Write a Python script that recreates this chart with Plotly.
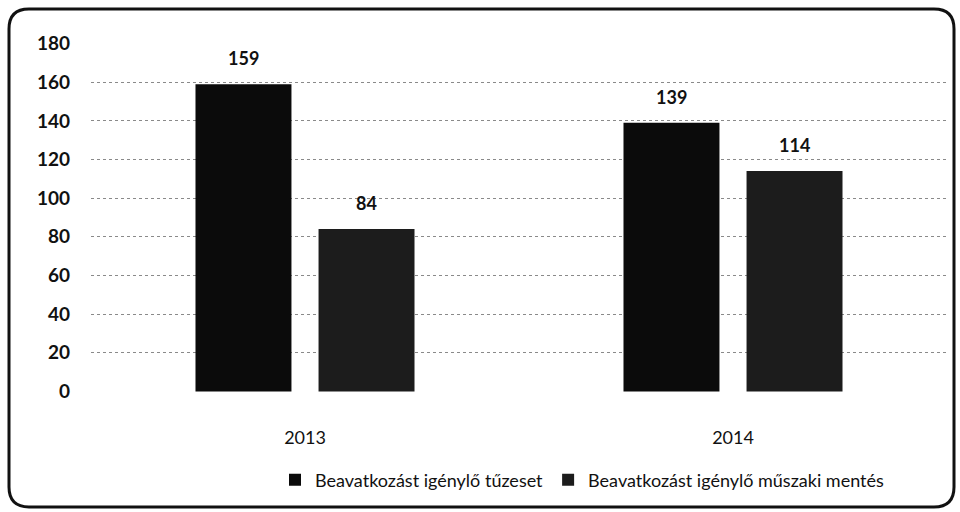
import plotly.graph_objects as go

years = ["2013", "2014"]
series_names = ["Beavatkozást igénylő tűzeset", "Beavatkozást igénylő műszaki mentés"]
fire_values = [159, 139]
rescue_values = [84, 114]
y_ticks = [0, 20, 40, 60, 80, 100, 120, 140, 160, 180]

W, H = 960, 512
L, R, T, B = 91, 13, 43, 120
pw, ph = W - L - R, H - T - B

def px_to_paper(x, y):
    return (x - L) / pw, (H - B - y) / ph

label_font = dict(size=18, color="#111", family="Lato", weight="bold")

fig = go.Figure()
fig.add_trace(go.Bar(
    x=years, y=fire_values, name=series_names[0],
    marker=dict(color="#0b0b0b", line=dict(width=0)),
))
fig.add_trace(go.Bar(
    x=years, y=rescue_values, name=series_names[1],
    marker=dict(color="#1c1c1c", line=dict(width=0)),
))

# value labels above bars (category index positions)
for vals, shift in ((fire_values, -61.5), (rescue_values, 61.5)):
    for i, v in enumerate(vals):
        fig.add_annotation(x=i, y=v, xref="x", yref="y", text=str(v), showarrow=False,
                           xshift=shift, yshift=26, yanchor="middle",
                           font=label_font)

# rounded border
x0, y0 = 9, 9
x1, y1 = 954, 507
r = 20
def P(x, y):
    a, b = px_to_paper(x, y)
    return f"{a:.5f},{b:.5f}"
path = (f"M {P(x0 + r, y0)} L {P(x1 - r, y0)} Q {P(x1, y0)} {P(x1, y0 + r)} "
        f"L {P(x1, y1 - r)} Q {P(x1, y1)} {P(x1 - r, y1)} "
        f"L {P(x0 + r, y1)} Q {P(x0, y1)} {P(x0, y1 - r)} "
        f"L {P(x0, y0 + r)} Q {P(x0, y0)} {P(x0 + r, y0)} Z")
fig.add_shape(type="path", path=path, xref="paper", yref="paper",
              line=dict(color="#111", width=3), layer="above")

lx, ly = px_to_paper(582, 480)
fig.update_layout(
    width=W, height=H,
    margin=dict(l=L, r=R, t=T, b=B, autoexpand=False),
    paper_bgcolor="white", plot_bgcolor="white",
    barmode="group", bargap=0.425, bargroupgap=0.22,
    font=dict(family="Lato, sans-serif", color="#111"),
    showlegend=True,
    legend=dict(orientation="h", x=lx, y=ly, xanchor="center", yanchor="middle",
                font=dict(size=18, color="#111"), itemwidth=30,
                traceorder="normal"),
    xaxis=dict(type="category", range=[-0.5, len(years) - 0.5],
               showgrid=False, showline=False, zeroline=False,
               tickfont=dict(size=18, color="#111"), ticks="",
               ticklabelstandoff=33),
    yaxis=dict(range=[-0.3, 180.3], tickvals=y_ticks, showgrid=True,
               gridcolor="#8a8a8a", griddash="dot", gridwidth=1,
               zeroline=False, showline=False, ticks="",
               tickfont=dict(size=19, color="#111", family="Lato", weight="bold"),
               ticklabelstandoff=20),
)

fig.write_html("out.html", config={"displayModeBar": False},
               post_script="document.body.style.margin='0';")
